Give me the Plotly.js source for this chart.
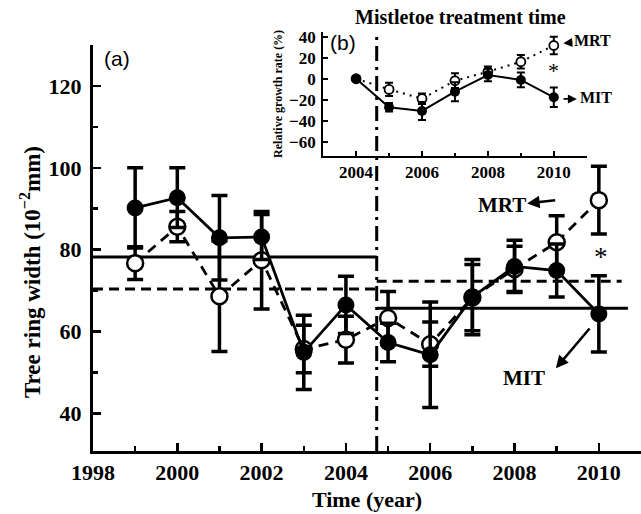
<!DOCTYPE html>
<html>
<head>
<meta charset="utf-8">
<script src="https://cdn.plot.ly/plotly-3.0.1.min.js"></script>
<style>html,body{margin:0;padding:0;background:#fff;}#chart{width:641px;height:514px;}</style>
</head>
<body>
<div id="chart"></div>
<script>
// ---- main panel (a): tree ring width ----
const years = [1999, 2000, 2001, 2002, 2003, 2004, 2005, 2006, 2007, 2008, 2009, 2010];
const mitWidth = [90.2, 92.7, 82.9, 83.1, 54.9, 66.5, 57.3, 54.3, 68.4, 75.9, 74.9, 64.3];
const mitWidthErr = [9.8, 7.3, 10.3, 5.5, 9.1, 7.0, 4.7, 12.9, 9.2, 6.4, 6.5, 9.3];
const mrtWidth = [76.7, 85.6, 68.6, 77.4, 55.7, 58.0, 63.3, 56.9, 68.3, 75.3, 81.8, 92.1];
const mrtWidthErr = [4.0, 3.7, 13.5, 11.9, 5.8, 5.7, 6.5, 5.4, 8.1, 5.5, 6.5, 8.3];

// period means (before / after treatment)
const treatmentTime = 2004.73;
const preX = [1998, treatmentTime];
const postMitX = [treatmentTime, 2010.69];
const postMrtX = [treatmentTime, 2010.54];
const preMeanMIT = [78.2, 78.2];
const preMeanMRT = [70.4, 70.4];
const postMeanMIT = [65.7, 65.7];
const postMeanMRT = [72.3, 72.3];

// ---- inset panel (b): relative growth rate ----
const insetYears = [2004, 2005, 2006, 2007, 2008, 2009, 2010];
const mitRate = [0, -27.1, -30.6, -12.3, 3.5, -1.2, -17.6];
const mitRateErr = [0, 4.0, 8.5, 9.0, 6.0, 7.0, 9.3];
const mrtRate = [0, -10.1, -18.9, -1.9, 6.6, 16.1, 31.5];
const mrtRateErr = [0, 6.3, 5.0, 7.0, 5.0, 6.5, 8.3];

const xTickVals = [1998, 2000, 2002, 2004, 2006, 2008, 2010];
const yTickVals = [40, 60, 80, 100, 120];
const insetXTicks = [2004, 2006, 2008, 2010];
const insetYTicks = [-60, -40, -20, 0, 20, 40];

const SERIF = 'Liberation Serif, Times New Roman, serif';
const SANS = 'Liberation Sans, Arial, sans-serif';
const bold = (s) => ({family: SERIF, size: s, color: 'black', weight: 'bold'});

const traces = [
  // mean lines
  {x: preX, y: preMeanMIT, mode: 'lines', line: {color: 'black', width: 3}, hoverinfo: 'skip', showlegend: false},
  {x: preX, y: preMeanMRT, mode: 'lines', line: {color: 'black', width: 3, dash: '10px,6px'}, hoverinfo: 'skip', showlegend: false},
  {x: postMitX, y: postMeanMIT, mode: 'lines', line: {color: 'black', width: 3}, hoverinfo: 'skip', showlegend: false},
  {x: postMrtX, y: postMeanMRT, mode: 'lines', line: {color: 'black', width: 3, dash: '10px,6px'}, hoverinfo: 'skip', showlegend: false},
  // MRT (open)
  {x: years, y: mrtWidth, name: 'MRT', mode: 'lines+markers',
   line: {color: 'black', width: 2.8, dash: '10px,7px'},
   marker: {symbol: 'circle', size: 16, color: 'white', line: {color: 'black', width: 2.5}},
   error_y: {type: 'data', array: mrtWidthErr, visible: true, color: 'black', thickness: 3.5, width: 8},
   showlegend: false, cliponaxis: false},
  // MIT (filled)
  {x: years, y: mitWidth, name: 'MIT', mode: 'lines+markers',
   line: {color: 'black', width: 2.8},
   marker: {symbol: 'circle', size: 17, color: 'black'},
   error_y: {type: 'data', array: mitWidthErr, visible: true, color: 'black', thickness: 3.5, width: 8},
   showlegend: false, cliponaxis: false},
  // inset MRT
  {x: insetYears, y: mrtRate, xaxis: 'x2', yaxis: 'y2', mode: 'lines+markers',
   line: {color: 'black', width: 2, dash: '2px,5px'},
   marker: {symbol: 'circle', size: 9, color: 'white', line: {color: 'black', width: 1.8}},
   error_y: {type: 'data', array: mrtRateErr, visible: true, color: 'black', thickness: 2, width: 4},
   showlegend: false, cliponaxis: false},
  // inset MIT
  {x: insetYears, y: mitRate, xaxis: 'x2', yaxis: 'y2', mode: 'lines+markers',
   line: {color: 'black', width: 2},
   marker: {symbol: 'circle', size: 10, color: 'black'},
   error_y: {type: 'data', array: mitRateErr, visible: true, color: 'black', thickness: 2, width: 4},
   showlegend: false, cliponaxis: false}
];

const arrowCommon = {text: '', showarrow: true, arrowhead: 2, arrowsize: 1, arrowwidth: 2.5, arrowcolor: 'black'};

const layout = {
  width: 641, height: 514,
  margin: {l: 93, r: 0, t: 25, b: 63, pad: 0},
  paper_bgcolor: 'white', plot_bgcolor: 'rgba(0,0,0,0)',
  showlegend: false,
  xaxis: {
    domain: [0, 1], anchor: 'y', range: [1998, 2011],
    showline: true, linewidth: 3, linecolor: 'black', mirror: false,
    showgrid: false, zeroline: false,
    tickmode: 'array', tickvals: xTickVals, ticktext: xTickVals.map(String),
    ticks: 'inside', ticklen: 8, tickwidth: 2.5, tickcolor: 'black',
    minor: {dtick: 1, tick0: 1998, ticks: 'inside', ticklen: 5, tickwidth: 2.5, tickcolor: 'black', showgrid: false},
    tickfont: bold(22),
    title: {text: 'Time (year)', font: bold(22), standoff: 8}
  },
  yaxis: {
    domain: [0, 0.953], anchor: 'x', range: [30.8, 130],
    showline: true, linewidth: 3, linecolor: 'black',
    showgrid: false, zeroline: false,
    tickmode: 'array', tickvals: yTickVals, ticktext: yTickVals.map(String),
    ticks: 'inside', ticklen: 8, tickwidth: 2.5, tickcolor: 'black',
    minor: {dtick: 10, tick0: 40, ticks: 'inside', ticklen: 5, tickwidth: 2.5, tickcolor: 'black', showgrid: false},
    tickfont: bold(22), ticklabelstandoff: 4
  },
  xaxis2: {
    domain: [0.42, 0.901], anchor: 'y2', range: [2003, 2011],
    showline: true, linewidth: 2, linecolor: 'black',
    showgrid: false, zeroline: false,
    tickmode: 'array', tickvals: insetXTicks, ticktext: insetXTicks.map(String),
    ticks: 'inside', ticklen: 5, tickwidth: 2, tickcolor: 'black',
    minor: {dtick: 1, tick0: 2003, ticks: 'inside', ticklen: 3, tickwidth: 2, tickcolor: 'black', showgrid: false},
    tickfont: bold(17)
  },
  yaxis2: {
    domain: [0.6925, 0.984], anchor: 'x2', range: [-73.3, 44.5],
    showline: true, linewidth: 2, linecolor: 'black',
    showgrid: false, zeroline: false,
    tickmode: 'array', tickvals: insetYTicks, ticktext: insetYTicks.map(v => v < 0 ? '\u2212' + Math.abs(v) : String(v)),
    ticks: 'inside', ticklen: 5, tickwidth: 2, tickcolor: 'black',
    tickfont: bold(17), ticklabelstandoff: 2,
    title: {text: 'Relative growth rate (%)', font: bold(12), standoff: 4}
  },
  shapes: [
    {type: 'line', xref: 'x', yref: 'paper', x0: treatmentTime, x1: treatmentTime, y0: 0, y1: 0.981,
     line: {color: 'black', width: 3, dash: '15px,6px,3px,6px'}}
  ],
  annotations: [
    {xref: 'paper', yref: 'paper', x: 0.671, y: 1.019, text: 'Mistletoe treatment time', showarrow: false,
     font: bold(20), xanchor: 'center', yanchor: 'middle'},
    {xref: 'paper', yref: 'paper', x: -0.115, y: 0.42, text: 'Tree ring width (10<sup>\u22122</sup>mm)', showarrow: false,
     textangle: -90, font: bold(23), xanchor: 'center', yanchor: 'middle'},
    {xref: 'paper', yref: 'paper', x: 0.043, y: 0.922, text: '(a)', showarrow: false,
     font: {family: SANS, size: 21, color: 'black'}, xanchor: 'center', yanchor: 'middle'},
    {xref: 'paper', yref: 'paper', x: 0.456, y: 0.96, text: '(b)', showarrow: false,
     font: {family: SANS, size: 21, color: 'black'}, xanchor: 'center', yanchor: 'middle'},
    // main labels
    {xref: 'x', yref: 'y', x: 2007.71, y: 91.0, text: 'MRT', showarrow: false, font: bold(21), xanchor: 'center', yanchor: 'middle'},
    Object.assign({xref: 'x', yref: 'y', axref: 'x', ayref: 'y', x: 2008.3, y: 91.3, ax: 2009.0, ay: 92.1}, arrowCommon),
    {xref: 'x', yref: 'y', x: 2008.23, y: 48.7, text: 'MIT', showarrow: false, font: bold(21), xanchor: 'center', yanchor: 'middle'},
    Object.assign({xref: 'x', yref: 'y', axref: 'x', ayref: 'y', x: 2008.98, y: 51.0, ax: 2009.81, ay: 61.1}, arrowCommon),
    {xref: 'x', yref: 'y', x: 2010.05, y: 78.3, text: '*', showarrow: false, font: {family: SERIF, size: 27, color: 'black'}, xanchor: 'center', yanchor: 'middle'},
    // inset labels
    {xref: 'x2', yref: 'y2', axref: 'x2', ayref: 'y2', x: 2010.29, y: 33.6, ax: 2011.17, ay: 36, text: 'MRT',
     showarrow: true, arrowhead: 2, arrowsize: 1, arrowwidth: 1.8, arrowcolor: 'black', standoff: 0, startstandoff: 0,
     font: bold(16)},
    {xref: 'paper', yref: 'paper', x: 0.917, y: 0.829, text: 'MIT', showarrow: false, font: bold(16), xanchor: 'center', yanchor: 'middle'},
    Object.assign({xref: 'x2', yref: 'y2', axref: 'x2', ayref: 'y2', x: 2010.70, y: -19.2, ax: 2010.25, ay: -19.2}, arrowCommon, {arrowwidth: 1.8}),
    {xref: 'x2', yref: 'y2', x: 2010, y: 7.5, text: '*', showarrow: false, font: {family: SERIF, size: 22, color: 'black'}, xanchor: 'center', yanchor: 'middle'}
  ]
};

Plotly.newPlot('chart', traces, layout, {staticPlot: true, displayModeBar: false});
</script>
</body>
</html>
